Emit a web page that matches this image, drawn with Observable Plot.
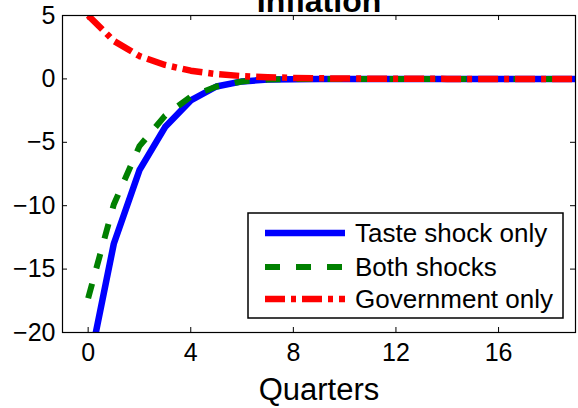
<!DOCTYPE html>
<html>
<head>
<meta charset="utf-8">
<script src="https://cdn.jsdelivr.net/npm/d3@7"></script>
<script src="https://cdn.jsdelivr.net/npm/@observablehq/plot@0.6"></script>
<style>
  html, body { margin: 0; padding: 0; background: white; }
</style>
</head>
<body>
<div id="chart"></div>
<script>
const quarters = [0,1,2,3,4,5,6,7,8,9,10,11,12,13,14,15,16,17,18,19];
const tasteOnly = [-23, -13.0, -7.2, -3.8, -1.7, -0.6, -0.2, -0.05, -0.02, 0, 0, 0, 0, 0, 0, 0, 0, 0, 0, 0];
const bothShocks = [-17.3, -9.9, -5.3, -2.9, -1.4, -0.6, -0.2, -0.05, 0, 0, 0, 0, 0, 0, 0, 0, 0, 0, 0, 0];
const govOnly = [5.0, 3.0, 1.8, 1.1, 0.65, 0.38, 0.22, 0.13, 0.08, 0.05, 0.03, 0.02, 0.01, 0.01, 0, 0, 0, 0, 0, 0];
const seriesNames = ["Taste shock only", "Both shocks", "Government only"];
const xTicks = [0, 4, 8, 12, 16];
const yTicks = [-20, -15, -10, -5, 0, 5];
const title = "Inflation";
const xLabel = "Quarters";

const colors = ["#0000ff", "#008000", "#ff0000"];
const widths = [6.5, 6, 6.5];
const dashes = [null, "15,16", "20,6,5,6"];
const font = "'Liberation Sans', Arial, Helvetica, sans-serif";

const W = 578, H = 408;
const mL = 62, mR = 3, mT = 15, mB = 76;
const fw = W - mL - mR, fh = H - mT - mB;

const rows = (vals) => quarters.map((q, i) => ({q, v: vals[i]}));
const data = [tasteOnly, bothShocks, govOnly].map(rows);

const chart = Plot.plot({
  width: W, height: H,
  marginLeft: mL, marginRight: mR, marginTop: mT, marginBottom: mB,
  style: {fontFamily: font, background: "white", color: "black", overflow: "visible"},
  x: {domain: [-1, 19]},
  y: {domain: [-20, 5]},
  marks: [
    Plot.axisX({ticks: xTicks, tickSize: 0, tickPadding: 11, fontSize: 25, label: null}),
    Plot.axisY({ticks: yTicks, tickSize: 0, tickPadding: 7, fontSize: 25, label: null}),
    Plot.tickX(xTicks, {x: d => d, insetTop: fh - 5, stroke: "black"}),
    Plot.tickX(xTicks, {x: d => d, insetBottom: fh - 5, stroke: "black"}),
    Plot.tickY(yTicks, {y: d => d, insetRight: fw - 5, stroke: "black"}),
    Plot.tickY(yTicks, {y: d => d, insetLeft: fw - 5, stroke: "black"}),
    ...data.map((d, i) => Plot.line(d, {
      x: "q", y: "v", stroke: colors[i], strokeWidth: widths[i],
      strokeDasharray: dashes[i], strokeLinecap: "butt", strokeLinejoin: "round", clip: true
    })),
    Plot.frame({stroke: "black", strokeWidth: 1.2}),
    Plot.text([title], {text: d => d, frameAnchor: "top", lineAnchor: "bottom", dy: -4, fontSize: 32, fontWeight: "bold", fill: "black"}),
    Plot.text([xLabel], {text: d => d, frameAnchor: "bottom", lineAnchor: "bottom", dy: 67, fontSize: 31, fill: "black"})
  ]
});

// Legend box inside plot area
const svg = d3.select(chart);
const lg = svg.append("g").attr("font-family", font).attr("text-anchor", "start");
const bx = 248, by = 213, bw = 315, bh = 105;
lg.append("rect").attr("x", bx).attr("y", by).attr("width", bw).attr("height", bh)
  .attr("fill", "white").attr("stroke", "black").attr("stroke-width", 1.5);
const rowY = [233, 267, 299];
seriesNames.forEach((name, i) => {
  lg.append("line").attr("x1", 265).attr("x2", 345).attr("y1", rowY[i]).attr("y2", rowY[i])
    .attr("stroke", colors[i]).attr("stroke-width", widths[i])
    .attr("stroke-dasharray", dashes[i]).attr("stroke-linecap", "butt");
  lg.append("text").attr("x", 355).attr("y", rowY[i]).attr("dy", "0.35em")
    .attr("text-anchor", "start")
    .attr("font-size", 26).attr("fill", "black").text(name);
});

document.getElementById("chart").appendChild(chart);
</script>
</body>
</html>
